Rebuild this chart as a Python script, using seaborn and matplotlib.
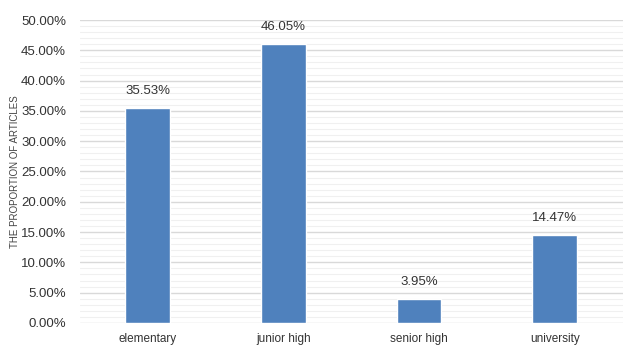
import matplotlib
matplotlib.use("Agg")
import matplotlib.pyplot as plt
import seaborn as sns
import pandas as pd
from matplotlib.ticker import MultipleLocator, FuncFormatter

categories = ["elementary", "junior high", "senior high", "university"]
values = [35.53, 46.05, 3.95, 14.47]
value_labels = ["35.53%", "46.05%", "3.95%", "14.47%"]

df = pd.DataFrame({"level": categories, "pct": values})

sns.set_theme(style="white")
plt.rcParams['font.family'] = ['Liberation Sans', 'DejaVu Sans']

fig = plt.figure(figsize=(6.25, 3.45), dpi=100)
ax = fig.add_axes([0.128, 0.064, 0.868, 0.878])

sns.barplot(data=df, x="level", y="pct", color="#4F81BD", width=0.33,
            saturation=1, ax=ax, zorder=3)

ax.set_ylim(0, 50)
ax.set_xlim(-0.5, 3.5)
ax.yaxis.set_major_locator(MultipleLocator(5))
ax.yaxis.set_minor_locator(MultipleLocator(1))
ax.yaxis.set_major_formatter(FuncFormatter(lambda v, p: f"{v:.2f}%"))
ax.grid(which="major", axis="y", color="#D9D9D9", linewidth=1.0, zorder=0)
ax.grid(which="minor", axis="y", color="#F0F0F0", linewidth=0.8, zorder=0)
ax.set_axisbelow(True)
for s in ax.spines.values():
    s.set_visible(False)

ax.tick_params(axis="y", which="both", length=0, labelsize=9.5, labelcolor="#333333", pad=10)
ax.tick_params(axis="x", length=0, labelsize=8.5, labelcolor="#333333", pad=7)
ax.set_xlabel("")
ax.set_ylabel("THE PROPORTION OF ARTICLES", fontsize=7, color="#444444")
ax.yaxis.set_label_coords(-0.11, 0.5)

for i, (v, lab) in enumerate(zip(values, value_labels)):
    ax.text(i, v + 1.8, lab, ha="center", va="bottom", fontsize=9.5, color="#333333")

fig.savefig("out.png", dpi=100)
